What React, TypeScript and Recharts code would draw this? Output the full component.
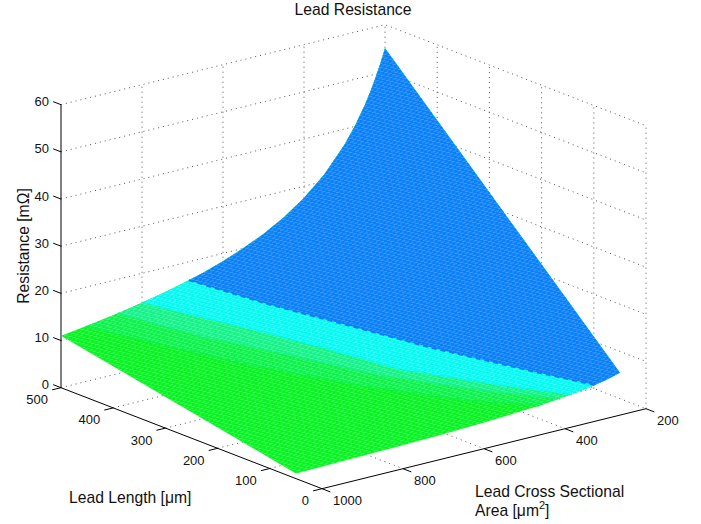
import { Scatter, ScatterChart, XAxis, YAxis } from "recharts";

const FONT = '"Liberation Sans", Arial, sans-serif';

const lengthTicks = [500, 400, 300, 200, 100, 0];
const areaTicks = [1000, 800, 600, 400, 200];
const resistanceTicks = [0, 10, 20, 30, 40, 50, 60];

// surface outline, read along its two curved edges
const edgeAreas = [200, 212, 225, 237, 250, 275, 300, 350, 400, 450, 500, 550, 600, 650, 700, 750, 800, 850, 900, 950, 1000];
const edgeLong = [55, 51.89, 48.89, 46.41, 44, 40, 36.67, 31.43, 27.5, 24.44, 22, 20, 18.33, 16.92, 15.71, 14.67, 13.75, 12.94, 12.22, 11.58, 11];
const edgeShort = [5.5, 5.19, 4.89, 4.64, 4.4, 4, 3.67, 3.14, 2.75, 2.44, 2.2, 2, 1.83, 1.69, 1.57, 1.47, 1.38, 1.29, 1.22, 1.16, 1.1];
const LONG = 500;
const SHORT = 50;

// colour band boundaries across the surface
const contourLengths = [500, 400, 300, 200, 100, 50];
const blueArea = [684, 623, 553, 467, 350, 262];
const blueRes = [16.08, 14.13, 12.4, 9.9, 6.8, 4.2];
const cyanArea = [798, 730, 651, 554, 420, 319];
const cyanRes = [13.78, 12.45, 10.64, 7.4, 5.24, 3.45];
const aquaArea = [859, 786, 703, 599, 457, 348];
const aquaRes = [12.81, 10.7, 9.39, 7.0, 4.81, 3.16];
const springArea = [940, 864, 778, 669, 517, 400];
const springRes = [11.7, 10.19, 8.48, 6.58, 4.26, 2.75];

type Pt = { x: number; y: number; label?: string };

// orthographic view of the box
function project(length: number, area: number, res: number): Pt {
  return {
    x: 322 - 0.522 * length + 0.405 * (1000 - area),
    y: 488.7 - 0.202 * length - 0.1 * (1000 - area) - 4.717 * res,
  };
}

function contourLine(areas: number[], res: number[]) {
  return contourLengths.map((l, i) => project(l, areas[i], res[i]));
}

function band(areas: number[], res: number[]) {
  const endLong = areas[0];
  const endShort = areas[areas.length - 1];
  const contour = contourLine(areas, res);
  const shortSide: Pt[] = [];
  edgeAreas.forEach((a, i) => {
    if (a < endShort) shortSide.unshift(project(SHORT, a, edgeShort[i]));
  });
  const longSide: Pt[] = [];
  edgeAreas.forEach((a, i) => {
    if (a < endLong) longSide.push(project(LONG, a, edgeLong[i]));
  });
  return [...contour, ...shortSide, ...longSide, contour[0]];
}

const basePolygon: Pt[] = [
  ...edgeAreas.map((a, i) => project(LONG, a, edgeLong[i])),
  ...edgeAreas.map((a, i) => project(SHORT, a, edgeShort[i])).reverse(),
];
basePolygon.push(basePolygon[0]);

const bands = [
  { id: "bright", points: basePolygon, edge: null, base: "#0cf024", streak: "#38ff58" },
  { id: "spring", points: band(springArea, springRes), edge: contourLine(springArea, springRes), base: "#10f04c", streak: "#40ff78" },
  { id: "aqua", points: band(aquaArea, aquaRes), edge: contourLine(aquaArea, aquaRes), base: "#18f088", streak: "#48ffa8" },
  { id: "cyan", points: band(cyanArea, cyanRes), edge: contourLine(cyanArea, cyanRes), base: "#08f8f0", streak: "#40ffff" },
  { id: "blue", points: band(blueArea, blueRes), edge: contourLine(blueArea, blueRes), base: "#0a80f6", streak: "#409cff" },
];

const TOP = 60;
const gridLines: Pt[][] = [
  ...resistanceTicks.map((z) => [project(500, 1000, z), project(500, 200, z), project(0, 200, z)]),
  ...areaTicks.slice(1).map((a) => [project(500, a, 0), project(500, a, TOP)]),
  ...lengthTicks.slice(1).map((l) => [project(l, 200, 0), project(l, 200, TOP)]),
  ...areaTicks.slice(1, -1).map((a) => [project(500, a, 0), project(0, a, 0)]),
  ...lengthTicks.slice(1, -1).map((l) => [project(l, 1000, 0), project(l, 200, 0)]),
];

const axisLines: Pt[][] = [
  [project(500, 1000, TOP), project(500, 1000, 0), project(0, 1000, 0), project(0, 200, 0)],
  ...resistanceTicks.map((z) => [project(500, 1000, z), project(515, 1000, z)]),
  ...lengthTicks.map((l) => [project(l, 1000, 0), project(l, 1022, 0)]),
  ...areaTicks.map((a) => [project(0, a, 0), project(-16, a, 0)]),
];

const zLabels = resistanceTicks.map((z) => ({ ...project(500, 1000, z), label: String(z) }));
const lengthLabels = lengthTicks.map((l) => ({ ...project(l, 1000, 0), label: String(l) }));
const areaLabels = areaTicks.map((a) => ({ ...project(0, a, 0), label: String(a) }));

const noDot = () => <g />;

function tickText(dx: number, dy: number, anchor: "start" | "end") {
  return (p: any) => (
    <text x={p.cx + dx} y={p.cy + dy} textAnchor={anchor} dominantBaseline="central" fontFamily={FONT} fontSize={13} fill="#111">
      {p.payload.label}
    </text>
  );
}

const titleProps = { fontFamily: FONT, fontSize: 15.7, fill: "#111" };

export default function App() {
  return (
    <div style={{ position: "absolute", left: 0, top: 0 }}>
      <ScatterChart width={701} height={524} margin={{ top: 0, right: 0, bottom: 0, left: 0 }} style={{ background: "#fff" }}>
        <defs>
          {bands.map((b) => (
            <pattern key={b.id} id={b.id} width={7} height={4} patternUnits="userSpaceOnUse" patternTransform="rotate(-13)">
              <rect width={7} height={4} fill={b.base} />
              <rect x={1} y={1} width={4} height={1} fill={b.streak} />
              <rect x={4} y={3} width={3} height={1} fill={b.streak} />
              <rect x={0} y={3} width={1} height={1} fill={b.streak} />
            </pattern>
          ))}
        </defs>
        <XAxis type="number" dataKey="x" domain={[0, 701]} hide />
        <YAxis type="number" dataKey="y" domain={[0, 524]} reversed hide />

        {gridLines.map((pts, i) => (
          <Scatter key={`grid${i}`} data={pts} shape={noDot} isAnimationActive={false} line={{ stroke: "#555", strokeWidth: 1, strokeDasharray: "1 4" }} />
        ))}
        {axisLines.map((pts, i) => (
          <Scatter key={`axis${i}`} data={pts} shape={noDot} isAnimationActive={false} line={{ stroke: "#000", strokeWidth: 1 }} />
        ))}
        {bands.map((b) => (
          <Scatter key={b.id} data={b.points} shape={noDot} isAnimationActive={false} line={{ fill: `url(#${b.id})`, stroke: "none" }} />
        ))}
        {/* stepped edge of the coarse colour cells */}
        {bands.map((b) =>
          b.edge ? (
            <Scatter key={`${b.id}Edge`} data={b.edge} shape={noDot} isAnimationActive={false} line={{ stroke: b.base, strokeWidth: 2, strokeDasharray: "5 4" }} />
          ) : null,
        )}

        <Scatter data={zLabels} shape={tickText(-12, -3, "end")} isAnimationActive={false} />
        <Scatter data={lengthLabels} shape={tickText(-13, 12, "end")} isAnimationActive={false} />
        <Scatter data={areaLabels} shape={tickText(11, 12, "start")} isAnimationActive={false} />

        <text x={353} y={9} textAnchor="middle" dominantBaseline="central" {...titleProps}>Lead Resistance</text>
        <text x={69} y={497} dominantBaseline="central" {...titleProps}>Lead Length [μm]</text>
        <text x={475} y={491} dominantBaseline="central" {...titleProps}>Lead Cross Sectional</text>
        <text x={475} y={510} dominantBaseline="central" {...titleProps}>
          Area [μm<tspan dy={-5} fontSize={11}>2</tspan><tspan dy={5}>]</tspan>
        </text>
        <text x={23} y={246} transform="rotate(-90 23 246)" textAnchor="middle" dominantBaseline="central" {...titleProps}>Resistance [mΩ]</text>
      </ScatterChart>
    </div>
  );
}
